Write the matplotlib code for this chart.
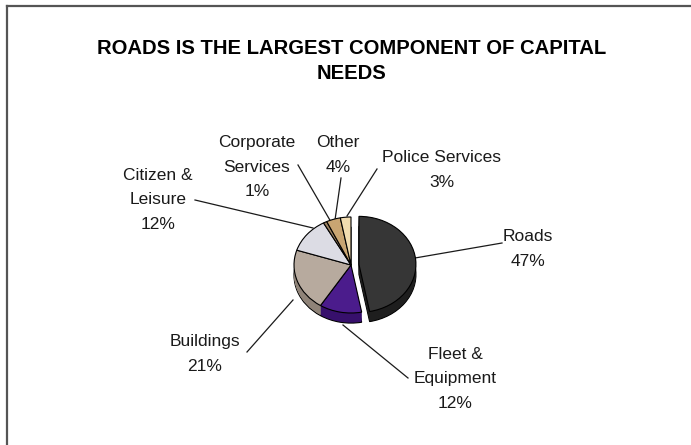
import matplotlib
matplotlib.use("Agg")
import matplotlib.pyplot as plt
import numpy as np

# ---- data ----
categories = ["Roads", "Fleet &\nEquipment", "Buildings", "Citizen &\nLeisure",
              "Corporate\nServices", "Other", "Police Services"]
values = [47, 12, 21, 12, 1, 4, 3]
title = "ROADS IS THE LARGEST COMPONENT OF CAPITAL\nNEEDS"

# ---- styles / layout ----
top_colors = ["#363636", "#4b1c8c", "#b7aa9e", "#dcdce4", "#9c8262", "#c9a572", "#f1dcb0"]
side_colors = ["#1e1e1e", "#37106c", "#8f8378", "#b0b0b8", "#7a6448", "#a08050", "#cdb68a"]
explode = [0.14, 0, 0, 0, 0, 0, 0]

label_pos = [(528, 249), (455, 379), (205, 354), (158, 200), (257, 167), (338, 155), (442, 170)]
leaders = [((415, 258), (502, 243)),
           ((343, 325), (408, 378)),
           ((293, 300), (247, 352)),
           ((313, 228), (195, 200)),
           ((331, 222), (298, 165)),
           ((335, 220), (341, 178)),
           ((347, 216), (377, 169))]

W, H = 691, 445
fig = plt.figure(figsize=(W / 100, H / 100), dpi=100)
fig.patch.set_facecolor("white")

over = fig.add_axes([0, 0, 1, 1])
over.set_xlim(0, W)
over.set_ylim(H, 0)
over.axis("off")

# pie axes (elliptical top face)
cx, cy = 351, 265
rx, ry = 57, 48
pad = 1.4
pax = fig.add_axes([(cx - pad * rx) / W, (H - cy - pad * ry) / H,
                    2 * pad * rx / W, 2 * pad * ry / H])
depth = 0.21
kw = dict(startangle=90, counterclock=False, explode=explode, radius=1)
pax.pie(values, colors=side_colors, center=(0, -depth),
        wedgeprops=dict(edgecolor="black", linewidth=0.8), **kw)
for d in np.linspace(depth, 0.0, 14)[1:-1]:
    pax.pie(values, colors=side_colors, center=(0, -d),
            wedgeprops=dict(edgecolor="none", linewidth=0), **kw)
pax.pie(values, colors=top_colors,
        wedgeprops=dict(edgecolor="black", linewidth=0.8), **kw)
pax.set_aspect("auto")
pax.set_xlim(-pad, pad)
pax.set_ylim(-pad, pad)
pax.axis("off")

# labels
for cat, v, (x, y) in zip(categories, values, label_pos):
    over.text(x, y, f"{cat}\n{v}%", ha="center", va="center", fontsize=12.5,
              family="Liberation Sans", color="#1a1a1a", linespacing=1.8)
for (p0, p1) in leaders:
    over.plot([p0[0], p1[0]], [p0[1], p1[1]], color="#1a1a1a", lw=0.9)

# title
over.text(352, 61, title, ha="center", va="center", fontsize=14.6, fontweight="bold",
          family="Liberation Sans", color="black", linespacing=1.45)

# frame (left and top edges visible)
over.plot([7, 7], [6, H], color="#555555", lw=1.6)
over.plot([7, W], [6, 6], color="#555555", lw=1.6)

fig.savefig("out.png", dpi=100)
